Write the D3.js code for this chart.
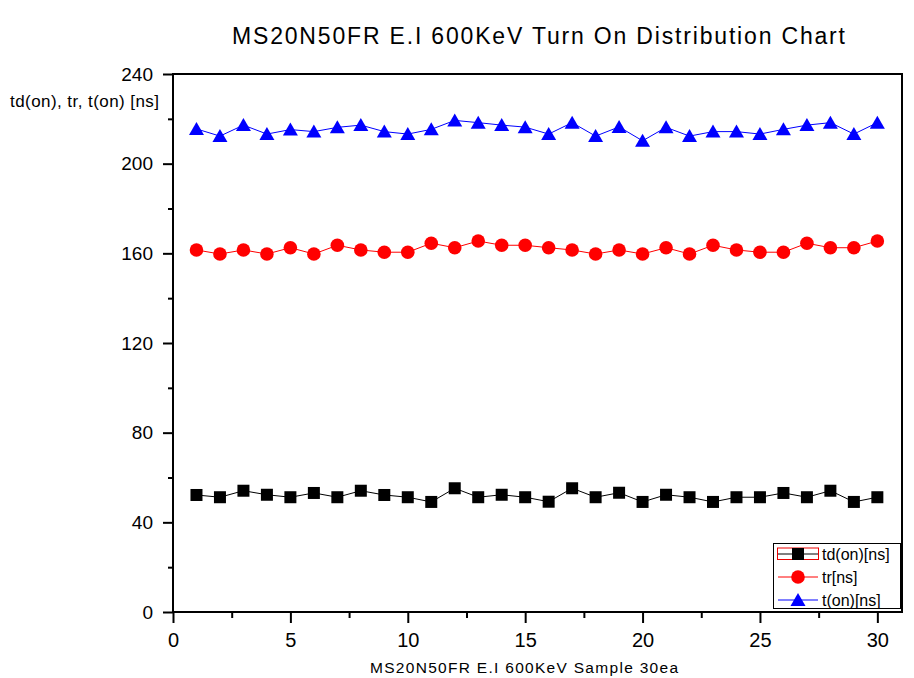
<!DOCTYPE html>
<html><head><meta charset="utf-8">
<script src="https://cdn.jsdelivr.net/npm/d3@7"></script>
<style>body{margin:0;background:#fff}svg{display:block}</style>
</head><body>
<svg id="c" width="914" height="678"></svg>
<script>
const samples = d3.range(1, 31);
const tdOn = [52.2,51.2,54.1,52.3,51.2,53.1,51.2,54.1,52.2,51.2,49.1,55.2,51.2,52.3,51.2,49.2,55.2,51.2,53.2,49.1,52.3,51.2,49.1,51.2,51.2,53.1,51.2,54.1,49.1,51.2];
const tr = [161.5,159.7,161.5,159.7,162.5,159.7,163.6,161.5,160.5,160.5,164.5,162.5,165.5,163.6,163.6,162.5,161.5,159.7,161.5,159.7,162.5,159.7,163.6,161.5,160.5,160.5,164.5,162.5,162.5,165.5];
const tOn = [215.5,212.3,217.2,213.2,215.2,214.3,216.2,217.2,214.3,213.2,215.3,219.3,218.3,217.2,216.3,213.2,218.3,212.3,216.4,210.2,216.2,212.3,214.3,214.3,213.2,215.3,217.2,218.3,213.2,218.3];
const seriesNames = ["td(on)[ns]","tr[ns]","t(on)[ns]"];
const xTicks = [0,5,10,15,20,25,30];
const yTicks = [0,40,80,120,160,200,240];
const title = "MS20N50FR E.I 600KeV Turn On Distribution Chart";
const xLabel = "MS20N50FR E.I 600KeV Sample 30ea";
const yLabel = "td(on), tr, t(on) [ns]";

const svg = d3.select("#c");
const L=173, R=902, T=74, B=612;
const x = d3.scaleLinear().domain([0,31.05]).range([L,R]);
const y = d3.scaleLinear().domain([0,240]).range([B,T]);
const font = "'Liberation Sans', Arial, sans-serif";

// frame
svg.append("rect").attr("x",L).attr("y",T).attr("width",R-L).attr("height",B-T)
  .attr("fill","none").attr("stroke","#000").attr("stroke-width",2);

// axes
const xa = svg.append("g").attr("transform",`translate(0,${B})`)
  .call(d3.axisBottom(x).tickValues(xTicks).tickFormat(d3.format("d")).tickSize(11).tickPadding(10));
const xm = svg.append("g").attr("transform",`translate(0,${B})`)
  .call(d3.axisBottom(x).tickValues(d3.range(2.5,31,5)).tickFormat("").tickSize(6));
const ya = svg.append("g").attr("transform",`translate(${L},0)`)
  .call(d3.axisLeft(y).tickValues(yTicks).tickFormat(d3.format("d")).tickSize(10).tickPadding(10));
const ym = svg.append("g").attr("transform",`translate(${L},0)`)
  .call(d3.axisLeft(y).tickValues(d3.range(20,240,40)).tickFormat("").tickSize(5));
[xa,xm,ya,ym].forEach(g=>{
  g.select(".domain").remove();
  g.selectAll("line").attr("stroke","#000").attr("stroke-width",2);
  g.selectAll("text").attr("font-family",font).attr("fill","#000");
});
xa.selectAll("text").attr("font-size",20);
ya.selectAll("text").attr("font-size",19);

// titles
svg.append("text").attr("x",232).attr("y",43.5)
  .attr("font-family",font).attr("font-size",23)
  .attr("textLength",613).attr("lengthAdjust","spacing").text(title);
svg.append("text").attr("x",10).attr("y",106.5)
  .attr("font-family",font).attr("font-size",17)
  .attr("textLength",149).attr("lengthAdjust","spacing").text(yLabel);
svg.append("text").attr("x",370).attr("y",672.5)
  .attr("font-family",font).attr("font-size",15.5)
  .attr("textLength",308).attr("lengthAdjust","spacing").text(xLabel);

const series = [
  {name:seriesNames[0], vals:tdOn, color:"#000", shape:"square"},
  {name:seriesNames[1], vals:tr, color:"#f00", shape:"circle"},
  {name:seriesNames[2], vals:tOn, color:"#00f", shape:"triangle"}
];
function drawMarker(g, shape, color, cx, cy){
  if(shape==="square") g.append("rect").attr("x",cx-6).attr("y",cy-6).attr("width",12).attr("height",12).attr("fill",color);
  else if(shape==="circle") g.append("circle").attr("cx",cx).attr("cy",cy).attr("r",6.8).attr("fill",color);
  else g.append("path").attr("d",`M${cx},${cy-7}L${cx+7.5},${cy+6}L${cx-7.5},${cy+6}Z`).attr("fill",color);
}
const line = d3.line().x((d,i)=>x(samples[i])).y(d=>y(d));
series.forEach(s=>{
  svg.append("path").datum(s.vals).attr("d",line).attr("fill","none").attr("stroke",s.color).attr("stroke-width",1);
  const g = svg.append("g");
  s.vals.forEach((v,i)=>drawMarker(g,s.shape,s.color,x(samples[i]),y(v)));
});

// legend
const lg = svg.append("g");
lg.append("rect").attr("x",773.5).attr("y",543.5).attr("width",127).attr("height",65)
  .attr("fill","#fff").attr("stroke","#000").attr("stroke-width",1);
lg.append("rect").attr("x",777.5).attr("y",548).attr("width",41).attr("height",11.5)
  .attr("fill","none").attr("stroke","#e00").attr("stroke-width",1);
series.forEach((s,i)=>{
  const cy = 554 + i*23;
  lg.append("line").attr("x1",778).attr("x2",818).attr("y1",cy).attr("y2",cy).attr("stroke",s.color);
  drawMarker(lg,s.shape,s.color,798,cy);
  lg.append("text").attr("x",822).attr("y",cy+6).attr("font-family",font).attr("font-size",16).text(s.name);
});
</script>
</body></html>
